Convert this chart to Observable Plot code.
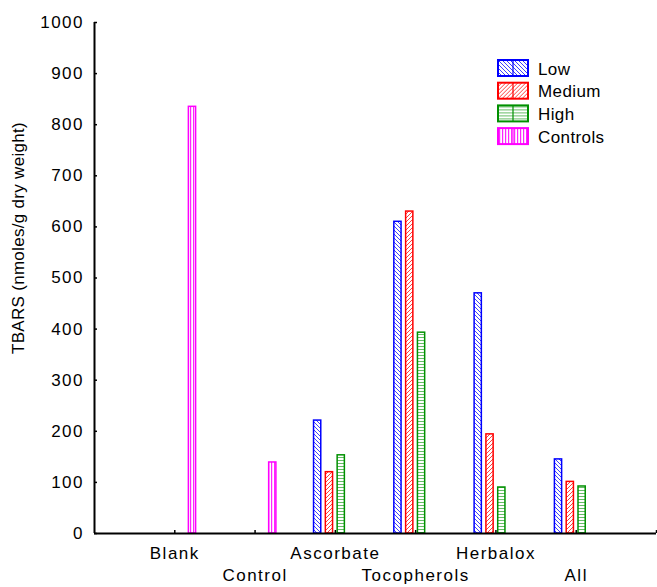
<!DOCTYPE html>
<html>
<head>
<meta charset="utf-8">
<script src="https://cdn.jsdelivr.net/npm/d3@7"></script>
<script src="https://cdn.jsdelivr.net/npm/@observablehq/plot@0.6"></script>
<style>
  body { margin: 0; background: #fff; }
  #wrap { position: relative; width: 657px; height: 587px; font-family: "Liberation Sans", Arial, Helvetica, sans-serif; }
  #ytitle { position: absolute; left: 19px; top: 238px; transform: translate(-50%, -50%) rotate(-90deg); white-space: nowrap; font-size: 17px; letter-spacing: 0.3px; color: #000; }
  #legend { position: absolute; left: 490px; top: 52px; }
</style>
</head>
<body>
<svg width="0" height="0" style="position:absolute">
  <defs>
    <pattern id="pat-low" patternUnits="userSpaceOnUse" width="4" height="4">
      <rect width="4" height="4" fill="#fff"/>
      <path d="M0,0 L4,4 M-1,3 L1,5 M3,-1 L5,1" stroke="#0000ff" stroke-width="1" stroke-opacity="0.75"/>
    </pattern>
    <pattern id="pat-medium" patternUnits="userSpaceOnUse" width="4" height="4">
      <rect width="4" height="4" fill="#fff"/>
      <path d="M0,4 L4,0 M-1,1 L1,-1 M3,5 L5,3" stroke="#ff0000" stroke-width="1" stroke-opacity="0.75"/>
    </pattern>
    <pattern id="pat-high" patternUnits="userSpaceOnUse" width="4" height="3">
      <rect width="4" height="3" fill="#fff"/>
      <rect y="1" width="4" height="1" fill="#009000" fill-opacity="0.6"/>
    </pattern>
    <pattern id="pat-controls" patternUnits="userSpaceOnUse" width="3" height="4">
      <rect width="3" height="4" fill="#fff"/>
      <rect x="1" width="1.2" height="4" fill="#ff00ff" fill-opacity="0.85"/>
    </pattern>
  </defs>
</svg>
<div id="wrap">
  <div id="chart"></div>
  <div id="ytitle">TBARS (nmoles/g dry weight)</div>
  <svg id="legend" width="150" height="100"></svg>
</div>
<script>
// ---- data ----
const categories = ["Blank", "Control", "Ascorbate", "Tocopherols", "Herbalox", "All"];
const seriesNames = ["Low", "Medium", "High", "Controls"];
const lowValues      = [null, null, 221, 610, 470, 145];
const mediumValues   = [null, null, 120, 630, 194, 101];
const highValues     = [null, null, 153, 393,  90,  92];
const controlsValues = [835, 139, null, null, null, null];
const yTicks = [0, 100, 200, 300, 400, 500, 600, 700, 800, 900, 1000];

// ---- styling ----
const seriesColors = ["#0000ff", "#ff0000", "#009000", "#ff00ff"];
const seriesPatterns = ["url(#pat-low)", "url(#pat-medium)", "url(#pat-high)", "url(#pat-controls)"];
const slot = 0.147;   // group slot width in category units
const barW = 0.09;    // bar width in category units
const FONT = '"Liberation Sans", Arial, Helvetica, sans-serif';

const seriesValues = [lowValues, mediumValues, highValues, controlsValues];
const rows = [];
categories.forEach((c, ci) => {
  seriesNames.forEach((s, si) => {
    const v = seriesValues[si][ci];
    if (v != null) rows.push({category: c, pos: ci + 1, series: s, si, value: v});
  });
});

const barMarks = seriesNames.map((s, si) =>
  Plot.rectY(rows.filter(d => d.series === s), {
    x1: d => d.pos + (d.si - 1.5) * slot - barW / 2,
    x2: d => d.pos + (d.si - 1.5) * slot + barW / 2,
    y1: 0,
    y2: "value",
    fill: seriesPatterns[si],
    stroke: seriesColors[si],
    strokeWidth: 1.5
  })
);

const catPositions = categories.map((c, i) => i + 1);
const topRow = catPositions.filter((p, i) => i % 2 === 0);
const bottomRow = catPositions.filter((p, i) => i % 2 === 1);
const fmtCat = p => categories[p - 1];

const chart = Plot.plot({
  width: 657,
  height: 587,
  marginLeft: 94,
  marginRight: 1,
  marginTop: 22,
  marginBottom: 54,
  style: {fontFamily: FONT, fontSize: "17px", letterSpacing: "1.5px", color: "#000", background: "#fff"},
  x: {domain: [0, 7], axis: null},
  y: {domain: [0, 1000], axis: null},
  marks: [
    ...barMarks,
    // y axis
    Plot.axisY(yTicks, {tickSize: 3, dx: 3, tickFormat: () => "", stroke: "#000", strokeWidth: 1.5, label: null}),
    Plot.axisY(yTicks, {tickSize: 0, tickPadding: 10.5, tickFormat: d => String(d), fontSize: 17, fill: "#000", label: null}),
    Plot.ruleX([0], {y1: 0, y2: 1000, stroke: "#000", strokeWidth: 2}),
    // x axis
    Plot.axisX([...catPositions, 7], {tickSize: 3, dy: -3, tickFormat: () => "", stroke: "#000", strokeWidth: 1.5, label: null}),
    Plot.axisX(topRow, {tickSize: 0, tickPadding: 13, tickFormat: fmtCat, fontSize: 17, fill: "#000", label: null}),
    Plot.axisX(bottomRow, {tickSize: 0, tickPadding: 35, tickFormat: fmtCat, fontSize: 17, fill: "#000", label: null}),
    Plot.ruleY([0], {x1: 0, x2: 7, stroke: "#000", strokeWidth: 2})
  ]
});
document.getElementById("chart").appendChild(chart);

// ---- legend ----
const leg = d3.select("#legend");
const rowStep = 22.7;
seriesNames.forEach((s, i) => {
  const g = leg.append("g").attr("transform", `translate(8, ${8 + i * rowStep})`);
  g.append("rect").attr("x", 0).attr("y", 0).attr("width", 30).attr("height", 16)
    .attr("fill", seriesPatterns[i]).attr("stroke", seriesColors[i]).attr("stroke-width", 2);
  g.append("line").attr("x1", 15).attr("x2", 15).attr("y1", 0).attr("y2", 16)
    .attr("stroke", seriesColors[i]).attr("stroke-width", 1.2);
  g.append("text").attr("x", 40).attr("y", 14.5)
    .attr("font-family", FONT).attr("letter-spacing", "0.4px")
    .attr("font-size", 17).attr("fill", "#000").text(s);
});
</script>
</body>
</html>
